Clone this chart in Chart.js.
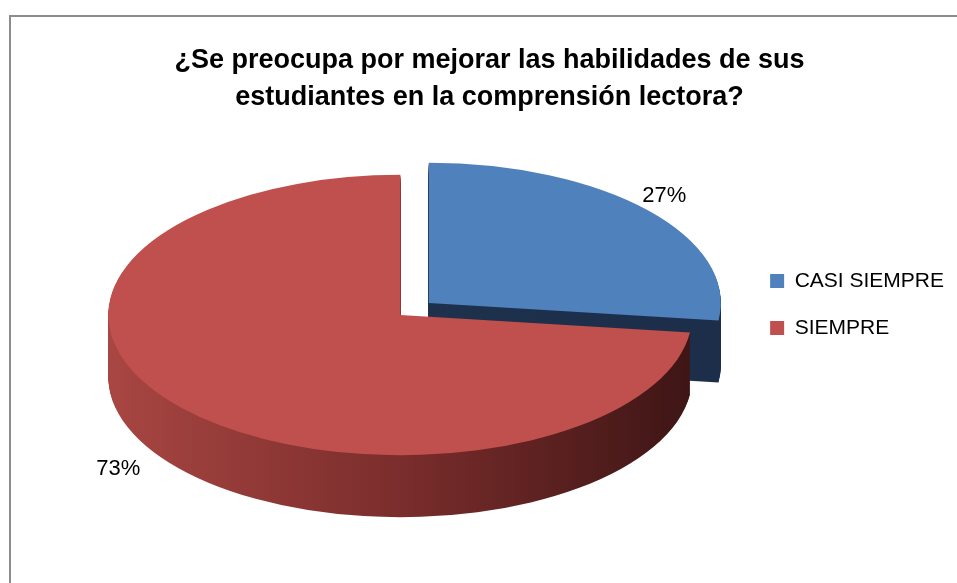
<!DOCTYPE html>
<html lang="es">
<head>
    <meta charset="UTF-8">
    <title>Comprensión lectora</title>
    <script src="https://cdn.jsdelivr.net/npm/chart.js@4.4.1/dist/chart.umd.min.js"></script>
    <style>
        html, body {
            margin: 0;
            padding: 0;
            background-color: #fff;
        }
        .chart-box {
            width: 957px;
            height: 583px;
            position: relative;
        }
    </style>
</head>
<body>
    <div class="chart-box">
        <canvas id="pieChart"></canvas>
    </div>

    <script>
        // data
        const categories = ['CASI SIEMPRE', 'SIEMPRE'];
        const percentages = [27, 73];

        const topColors = ['#4f81bd', '#c0504d'];
        const sideColors = [
            ['#1f3350', '#1c2e49'],
            ['#a84642', '#7a2d2c', '#3e1515']
        ];

        // fake 3D settings
        const tilt = 0.48;     // vertical squash of the disc
        const depth = 62;      // thickness of the disc in px
        const explode = 19;    // how far each slice is pulled out
        const shiftX = 30;     // nudge pie sideways (title stays centred)
        const shiftY = 4.5;    // and down a little (legend stays put)

        function pieCenter(chart) {
            const a = chart.chartArea;
            return { cx: (a.left + a.right) / 2, cy: (a.top + a.bottom) / 2 };
        }

        const framePlugin = {
            id: 'frame',
            beforeDraw(chart) {
                const ctx = chart.ctx;
                ctx.save();
                ctx.strokeStyle = '#8c8c8c';
                ctx.lineWidth = 2;
                ctx.beginPath();
                ctx.moveTo(10, chart.height);
                ctx.lineTo(10, 16);
                ctx.lineTo(chart.width, 16);
                ctx.stroke();
                ctx.restore();
            }
        };

        const pie3dPlugin = {
            id: 'pie3d',
            beforeDatasetsDraw(chart) {
                const ctx = chart.ctx;
                const { cx, cy } = pieCenter(chart);
                const arcs = chart.getDatasetMeta(0).data;

                // pull slices apart (recomputed every draw)
                arcs.forEach(arc => {
                    const mid = (arc.startAngle + arc.endAngle) / 2;
                    arc.x = cx + Math.cos(mid) * explode;
                    arc.y = cy + Math.sin(mid) * explode;
                });

                ctx.save();
                ctx.translate(cx + shiftX, cy + shiftY);
                ctx.scale(1, tilt);
                ctx.translate(-cx, -cy);

                // side walls: stacked copies of each slice shifted down
                arcs.forEach((arc, i) => {
                    const r = arc.outerRadius;
                    const grad = ctx.createLinearGradient(arc.x - r, 0, arc.x + r, 0);
                    const stops = sideColors[i];
                    stops.forEach((c, k) => grad.addColorStop(k / (stops.length - 1), c));
                    ctx.fillStyle = grad;
                    for (let s = depth; s >= 1; s--) {
                        const y = arc.y + s / tilt;
                        ctx.beginPath();
                        ctx.moveTo(arc.x, y);
                        ctx.arc(arc.x, y, r, arc.startAngle, arc.endAngle);
                        ctx.closePath();
                        ctx.fill();
                    }
                });
            },
            afterDatasetsDraw(chart) {
                const ctx = chart.ctx;
                ctx.restore();

                const { cy } = pieCenter(chart);
                const arcs = chart.getDatasetMeta(0).data;
                ctx.save();
                ctx.fillStyle = '#000';
                ctx.font = '22px "Liberation Sans", Arial, sans-serif';
                ctx.textAlign = 'center';
                ctx.textBaseline = 'middle';
                arcs.forEach((arc, i) => {
                    const mid = (arc.startAngle + arc.endAngle) / 2;
                    const r = arc.outerRadius;
                    let x = arc.x + shiftX + Math.cos(mid) * (r + 22);
                    let y = cy + shiftY + (arc.y - cy) * tilt + Math.sin(mid) * (r * tilt + 22);
                    // labels in front sit beside the side wall
                    if (Math.sin(mid) > 0) {
                        x += Math.cos(mid) * depth;
                        y += depth - 15;
                    }
                    ctx.fillText(percentages[i] + '%', x, y);
                });
                ctx.restore();
            }
        };

        const ctx = document.getElementById('pieChart').getContext('2d');
        const pieChart = new Chart(ctx, {
            type: 'pie',
            data: {
                labels: categories,
                datasets: [{
                    data: percentages,
                    backgroundColor: topColors,
                    borderWidth: 0,
                    radius: 292,
                    clip: false
                }]
            },
            options: {
                responsive: true,
                maintainAspectRatio: false,
                animation: false,
                events: [],
                layout: {
                    padding: { top: 10, right: 3, bottom: 100, left: 25 }
                },
                plugins: {
                    title: {
                        display: true,
                        text: ['¿Se preocupa por mejorar las habilidades de sus', 'estudiantes en la comprensión lectora?'],
                        color: '#000',
                        font: { family: '"Liberation Sans", Arial, sans-serif', size: 27, weight: 'bold', lineHeight: 1.37 },
                        padding: { top: 32, bottom: 10 }
                    },
                    legend: {
                        position: 'right',
                        fullSize: false,
                        labels: {
                            color: '#000',
                            font: { family: '"Liberation Sans", Arial, sans-serif', size: 21 },
                            boxWidth: 14,
                            boxHeight: 14,
                            padding: 26
                        }
                    },
                    tooltip: { enabled: false }
                }
            },
            plugins: [framePlugin, pie3dPlugin]
        });
    </script>
</body>
</html>
